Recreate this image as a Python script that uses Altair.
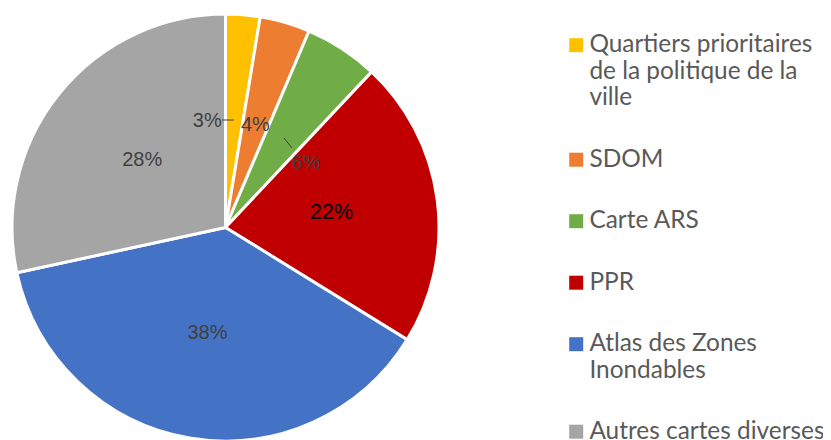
import json
import altair as alt
import pandas as pd

categories = [
    "Quartiers prioritaires de la politique de la ville",
    "SDOM",
    "Carte ARS",
    "PPR",
    "Atlas des Zones Inondables",
    "Autres cartes diverses",
]
shares = [2.6, 3.8, 5.6, 21.8, 37.8, 28.4]
colors = ["#FFC000", "#ED7D31", "#70AD47", "#C00000", "#4472C4", "#A5A5A5"]
legend_lines = [
    ["Quartiers prioritaires", "de la politique de la", "ville"],
    ["SDOM"],
    ["Carte ARS"],
    ["PPR"],
    ["Atlas des Zones", "Inondables"],
    ["Autres cartes diverses"],
]

df = pd.DataFrame({"cat": categories, "value": shares, "idx": list(range(len(categories)))})

# legend label expression with line breaks
expr = "datum.label"
for cat, lines in reversed(list(zip(categories, legend_lines))):
    expr = f"datum.label == {json.dumps(cat)} ? {json.dumps(lines)} : ({expr})"

color_scale = alt.Scale(domain=categories, range=colors)
theta_scale = alt.Scale(domain=[0, 100])
CX, CY = 217.5, 219.5

pie = alt.Chart(df).mark_arc(x=CX, y=CY, outerRadius=213.5, stroke="white", strokeWidth=3).encode(
    theta=alt.Theta("value:Q", stack=True, scale=theta_scale),
    order=alt.Order("idx:Q"),
    color=alt.Color(
        "cat:N",
        scale=color_scale,
        sort=categories,
        legend=alt.Legend(
            title=None,
            orient="none",
            legendX=556,
            legendY=25,
            symbolType="square",
            symbolSize=196,
            symbolStrokeWidth=0,
            labelFont="Lato",
            labelFontSize=24.4,
            labelColor="#595959",
            labelExpr=expr,
            labelLimit=400,
            labelOffset=1,
            rowPadding=36.5,
        ),
    ),
)

lab_base = (
    alt.Chart(df)
    .transform_window(cum="sum(value)", sort=[alt.SortField("idx")], frame=[None, 0])
    .transform_calculate(mid="datum.cum - datum.value / 2", txt="format(datum.value / 100, '.0%')")
    .encode(
        theta=alt.Theta("mid:Q", stack=None, scale=theta_scale),
        text="txt:N",
        color=alt.condition(alt.datum.cat == "PPR", alt.value("#000000"), alt.value("#404040")),
        size=alt.condition(alt.datum.cat == "PPR", alt.value(21.5), alt.value(20)),
    )
)

txt_kw = dict(x=CX, y=CY, radius=107, font="Liberation Sans", align="center", baseline="middle")
main_lab = lab_base.transform_filter("datum.idx != 0 && datum.idx != 2").mark_text(**txt_kw)
lab3 = lab_base.transform_filter("datum.idx == 0").mark_text(dx=-27, **txt_kw)
lab6 = lab_base.transform_filter("datum.idx == 2").mark_text(dx=22, dy=25, **txt_kw)

lead3 = alt.Chart(df).transform_filter("datum.idx == 0").mark_rule(color="#404040", strokeWidth=1).encode(
    x=alt.value(214), x2=alt.value(226), y=alt.value(112), y2=alt.value(112)
)
lead6 = alt.Chart(df).transform_filter("datum.idx == 2").mark_rule(color="#404040", strokeWidth=1).encode(
    x=alt.value(276), x2=alt.value(284), y=alt.value(130), y2=alt.value(140)
)

chart = (
    alt.layer(pie, main_lab, lab3, lab6, lead3, lead6)
    .properties(width=815, height=432, padding=0, autosize=alt.AutoSizeParams(type="none"))
    .configure_view(stroke=None)
)

chart.save("out.html", embed_options={"renderer": "svg", "actions": False})
